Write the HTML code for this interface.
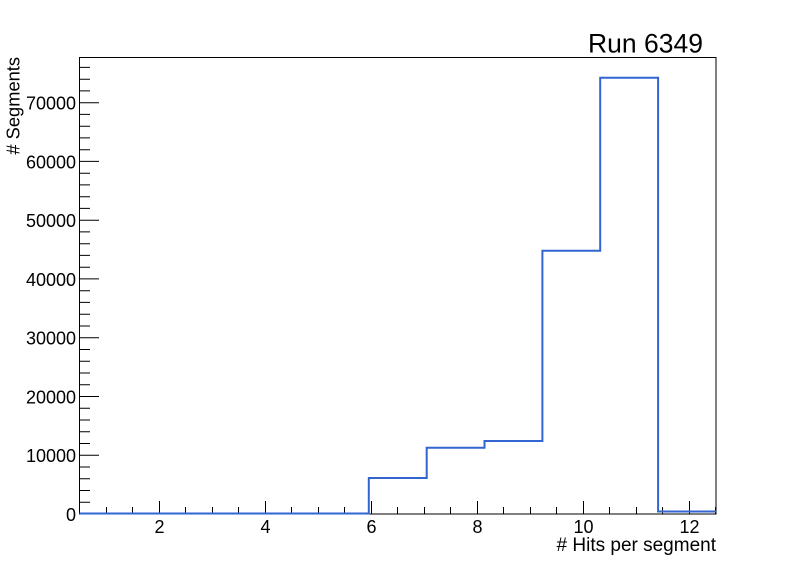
<!DOCTYPE html>
<html><head><meta charset="utf-8"><style>
html,body{margin:0;padding:0;background:#fff;}
svg{display:block;}
text{font-family:"Liberation Sans",Arial,sans-serif;fill:#000;}
</style></head><body>
<svg width="796" height="572" viewBox="0 0 796 572" xmlns="http://www.w3.org/2000/svg">
<rect width="796" height="572" fill="#fff"/>
<!-- frame -->
<rect x="79.5" y="57.5" width="636.5" height="456.5" fill="none" stroke="#000" stroke-width="1"/>
<!-- y ticks -->
<g stroke="#000" stroke-width="1">
<path d="M80 514H99M80 455.2H99M80 396.5H99M80 337.7H99M80 278.9H99M80 220.2H99M80 161.4H99M80 102.7H99"/>
<path d="M80 502.2H90M80 490.5H90M80 478.7H90M80 467H90M80 443.5H90M80 431.7H90M80 420H90M80 408.2H90M80 384.7H90M80 373H90M80 361.2H90M80 349.5H90M80 326H90M80 314.2H90M80 302.4H90M80 290.7H90M80 267.2H90M80 255.4H90M80 243.7H90M80 231.9H90M80 208.4H90M80 196.7H90M80 184.9H90M80 173.2H90M80 149.7H90M80 137.9H90M80 126.2H90M80 114.4H90M80 90.9H90M80 79.2H90M80 67.4H90"/>
</g>
<!-- x ticks -->
<g stroke="#000" stroke-width="1">
<path d="M159.5 514V501M265.5 514V501M371.5 514V501M477.5 514V501M583.5 514V501M689.5 514V501"/>
<path d="M106.5 514V507M132.5 514V507M185.5 514V507M212.5 514V507M238.5 514V507M291.5 514V507M318.5 514V507M344.5 514V507M397.5 514V507M424.5 514V507M450.5 514V507M503.5 514V507M530.5 514V507M556.5 514V507M609.5 514V507M636.5 514V507M662.5 514V507M715.5 514V507"/>
</g>
<!-- histogram -->
<path d="M79.5 513.5H368.8V478H426.7V447.7H484.5V441H542.4V250.7H600.2V77.7H658.1V511.5H716" fill="none" stroke="#3265d0" stroke-width="2"/>
<!-- y labels -->
<g font-size="18" text-anchor="end">
<text x="76" y="521">0</text>
<text x="76" y="462.2">10000</text>
<text x="76" y="403.5">20000</text>
<text x="76" y="344.7">30000</text>
<text x="76" y="285.9">40000</text>
<text x="76" y="227.2">50000</text>
<text x="76" y="168.4">60000</text>
<text x="76" y="109.7">70000</text>
</g>
<!-- x labels -->
<g font-size="18" text-anchor="middle">
<text x="159.5" y="533">2</text>
<text x="265.5" y="533">4</text>
<text x="371.5" y="533">6</text>
<text x="477.5" y="533">8</text>
<text x="583.5" y="533">10</text>
<text x="689.5" y="533">12</text>
</g>
<text x="716" y="551" font-size="19" text-anchor="end"># Hits per segment</text>
<text transform="translate(19.5,57) rotate(-90)" font-size="18.3" text-anchor="end"># Segments</text>
<text x="588" y="52.5" font-size="26.5"><tspan>Run 6349</tspan></text>
</svg>
</body></html>
